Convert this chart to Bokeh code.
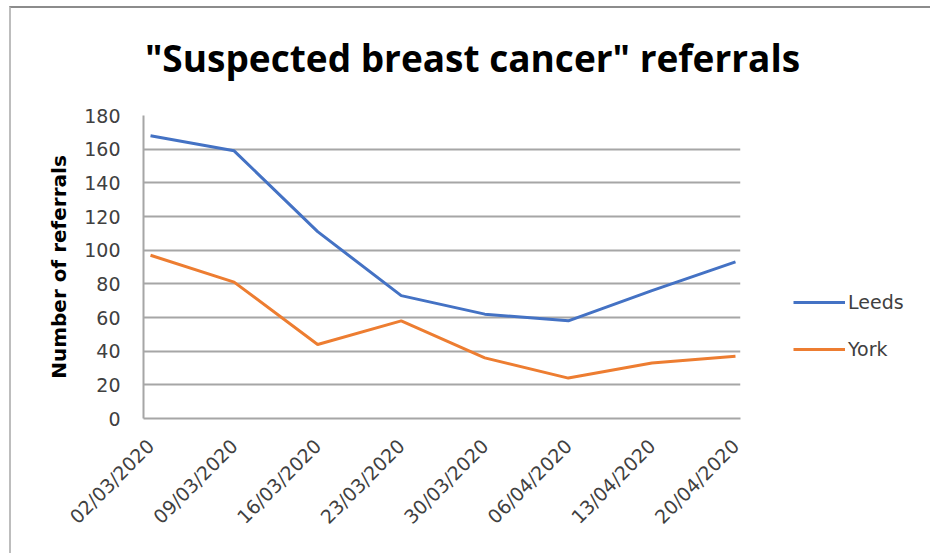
from bokeh.plotting import figure
from bokeh.models import Range1d, FixedTicker, Legend, LegendItem, Label
from bokeh.layouts import column, row
from bokeh.embed import file_html
from bokeh.resources import INLINE
import math

# ---- data ----
dates = ["02/03/2020", "09/03/2020", "16/03/2020", "23/03/2020",
         "30/03/2020", "06/04/2020", "13/04/2020", "20/04/2020"]
leeds = [168, 159, 111, 73, 62, 58, 76, 93]
york = [97, 81, 44, 58, 36, 24, 33, 37]
y_ticks = [0, 20, 40, 60, 80, 100, 120, 140, 160, 180]
series_names = ["Leeds", "York"]
series_colors = ["#4472C4", "#ED7D31"]
title_text = '"Suspected breast cancer" referrals'
y_label = "Number of referrals"

xs = list(range(len(dates)))
series_values = [leeds, york]


def blank(width, height):
    f = figure(width=width, height=height, output_backend="svg", toolbar_location=None,
               x_range=Range1d(0, 1), y_range=Range1d(0, 1),
               min_border=0, min_border_left=0, min_border_right=0,
               min_border_top=0, min_border_bottom=0)
    f.xaxis.visible = False
    f.yaxis.visible = False
    f.grid.visible = False
    f.outline_line_color = None
    f.background_fill_color = "white"
    f.border_fill_color = "white"
    return f


# ---- title strip ----
pt = blank(919, 95)
pt.add_layout(Label(x=461, y=46, x_units="screen", y_units="screen", text=title_text,
                    text_align="center", text_baseline="middle",
                    text_font="Open Sans", text_font_style="bold",
                    text_font_size="37px", text_color="#000000"))

# ---- main chart ----
p = figure(width=739, height=450, output_backend="svg", toolbar_location=None,
           x_range=Range1d(-0.084, len(dates) - 1 + 0.06),
           y_range=Range1d(0, 180),
           min_border_left=132, min_border_right=10,
           min_border_top=12, min_border_bottom=135)
p.outline_line_color = None
p.background_fill_color = "white"
p.border_fill_color = "white"

p.xaxis.ticker = FixedTicker(ticks=xs)
p.xaxis.major_label_overrides = {i: d for i, d in enumerate(dates)}
p.xaxis.major_label_orientation = math.pi / 4
p.xaxis.major_tick_line_color = None
p.xaxis.minor_tick_line_color = None
p.xaxis.axis_line_color = "#a6a6a6"
p.xaxis.axis_line_width = 2
p.xaxis.major_label_text_font = "DejaVu Sans"
p.xaxis.major_label_text_font_size = "19px"
p.xaxis.major_label_text_color = "#404040"
p.xaxis.major_label_standoff = 18

p.yaxis.ticker = FixedTicker(ticks=y_ticks)
p.yaxis.major_tick_line_color = None
p.yaxis.minor_tick_line_color = None
p.yaxis.axis_line_color = "#a6a6a6"
p.yaxis.axis_line_width = 2
p.yaxis.major_label_text_font = "DejaVu Sans"
p.yaxis.major_label_text_font_size = "19px"
p.yaxis.major_label_text_color = "#404040"
p.yaxis.major_label_standoff = 17
p.yaxis.axis_label = y_label
p.yaxis.axis_label_text_font = "DejaVu Sans"
p.yaxis.axis_label_text_font_style = "bold"
p.yaxis.axis_label_text_font_size = "20px"
p.yaxis.axis_label_text_color = "#000000"
p.yaxis.axis_label_standoff = 10

p.xgrid.grid_line_color = None
p.ygrid.grid_line_color = "#a6a6a6"
p.ygrid.grid_line_width = 2

for vals, col in zip(series_values, series_colors):
    p.line(xs, vals, line_color=col, line_width=3)

# ---- legend strip (same series, drawn outside its view; only the legend shows) ----
pl = blank(180, 450)
items = []
for name, vals, col in zip(series_names, series_values, series_colors):
    r = pl.line(xs, vals, line_color=col, line_width=3)
    items.append(LegendItem(label=name, renderers=[r]))
legend = Legend(items=items, location=(43, 58))
legend.border_line_color = None
legend.background_fill_alpha = 0
legend.label_text_font = "DejaVu Sans"
legend.label_text_font_size = "19px"
legend.label_text_color = "#404040"
legend.glyph_width = 52
legend.glyph_height = 20
legend.label_height = 20
legend.spacing = 25
legend.padding = 0
legend.margin = 0
legend.label_standoff = 3
pl.add_layout(legend)

layout = column(pt, row(p, pl, spacing=0), spacing=0)
layout.styles = {"margin": "6px 0px 0px 9px",
                 "border-top": "2px solid #8c8c8c", "border-left": "2px solid #bdbdbd"}

open("out.html", "w").write(file_html(layout, INLINE))
